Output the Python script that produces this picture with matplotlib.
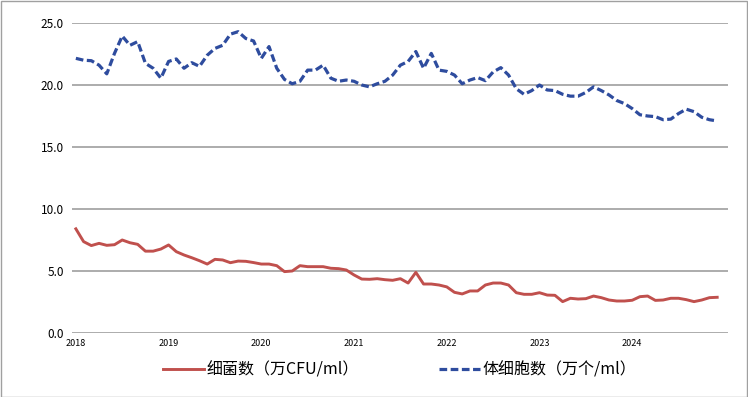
import numpy as np
import matplotlib
matplotlib.use('Agg')
import matplotlib.pyplot as plt
from matplotlib.patches import Rectangle

plt.rcParams['font.family'] = ['Noto Sans CJK SC', 'DejaVu Sans']

# ---------------------------------------------------------------------------
# Data: monthly values, Jan 2018 .. Dec 2024
# ---------------------------------------------------------------------------

years = ['2018', '2019', '2020', '2021', '2022', '2023', '2024']

bacteria = [
  8.40, 7.37, 7.05, 7.23, 7.07, 7.12, 7.50, 7.28, 7.15, 6.60, 6.60, 6.77,
  7.10, 6.56, 6.29, 6.07, 5.83, 5.56, 5.94, 5.89, 5.67, 5.80, 5.78, 5.68,
  5.56, 5.56, 5.43, 4.95, 5.00, 5.43, 5.35, 5.35, 5.35, 5.22, 5.19, 5.08,
  4.68, 4.35, 4.33, 4.38, 4.30, 4.25, 4.38, 4.03, 4.89, 3.95, 3.95, 3.87,
  3.72, 3.28, 3.15, 3.39, 3.39, 3.87, 4.03, 4.03, 3.87, 3.25, 3.12, 3.12,
  3.25, 3.06, 3.04, 2.53, 2.80, 2.74, 2.77, 2.98, 2.85, 2.66, 2.58, 2.58,
  2.64, 2.93, 2.98, 2.63, 2.66, 2.80, 2.80, 2.69, 2.53, 2.66, 2.85, 2.88,
]

somatic = [
  22.15, 22.00, 21.96, 21.60, 20.90, 22.55, 23.95, 23.20, 23.50, 21.75, 21.35, 20.55,
  21.90, 22.10, 21.35, 21.80, 21.50, 22.40, 22.95, 23.20, 24.10, 24.30, 23.75, 23.55,
  22.15, 23.10, 21.35, 20.45, 20.10, 20.30, 21.20, 21.20, 21.60, 20.55, 20.30, 20.40,
  20.30, 20.00, 19.85, 20.10, 20.30, 20.80, 21.60, 21.90, 22.70, 21.35, 22.55, 21.20,
  21.10, 20.80, 20.10, 20.40, 20.60, 20.35, 21.05, 21.40, 20.80, 19.70, 19.25, 19.55,
  20.00, 19.60, 19.55, 19.25, 19.10, 19.10, 19.40, 19.85, 19.55, 19.20, 18.75, 18.50,
  18.10, 17.60, 17.50, 17.45, 17.20, 17.25, 17.70, 18.05, 17.85, 17.40, 17.20, 17.10,
]

label_bac = '细菌数（万CFU/ml）'
label_som = '体细胞数（万个/ml）'

# ---------------------------------------------------------------------------
# Plot
# ---------------------------------------------------------------------------

fig = plt.figure(figsize=(7.48, 3.97), dpi=100)
ax = fig.add_axes([72 / 748, 1 - 333 / 397, 656 / 748, 310 / 397])

x = np.arange(len(bacteria))
ax.plot(x, bacteria, '-', color='#C0504D', linewidth=2.1, label=label_bac,
        solid_joinstyle='round', zorder=3)
ax.plot(x, somatic, '--', color='#2E4C9E', linewidth=2.3, dashes=(2.4, 1.1),
        label=label_som, zorder=3)

ax.set_ylim(0, 25)
ax.set_yticks(np.arange(0, 25.1, 5))
ax.set_yticklabels(['%.1f' % v for v in np.arange(0, 25.1, 5)], fontsize=8.5)
ax.set_xlim(-0.5, 84.4)
ax.set_xticks(np.arange(0, 84, 12))
ax.set_xticklabels(years, fontsize=6.5)
ax.tick_params(length=0, pad=6)
ax.tick_params(axis='x', pad=4)

ax.grid(True, axis='y', color='#A6A6A6', linewidth=1.3)
ax.set_axisbelow(True)
for s in ax.spines.values():
  s.set_visible(False)

fig.legend(loc='center', bbox_to_anchor=(0.534, 1 - 370 / 397), ncol=2,
           frameon=False, fontsize=11.5, handlelength=2.6, handletextpad=0.15,
           columnspacing=5.0)

fig.patches.append(Rectangle((0.5 / 748, 0.5 / 397), 746.5 / 748, 395.5 / 397,
                             transform=fig.transFigure, fill=False,
                             edgecolor='#A0A0A0', linewidth=1.0))

fig.savefig('out.png', dpi=100)
plt.close(fig)
